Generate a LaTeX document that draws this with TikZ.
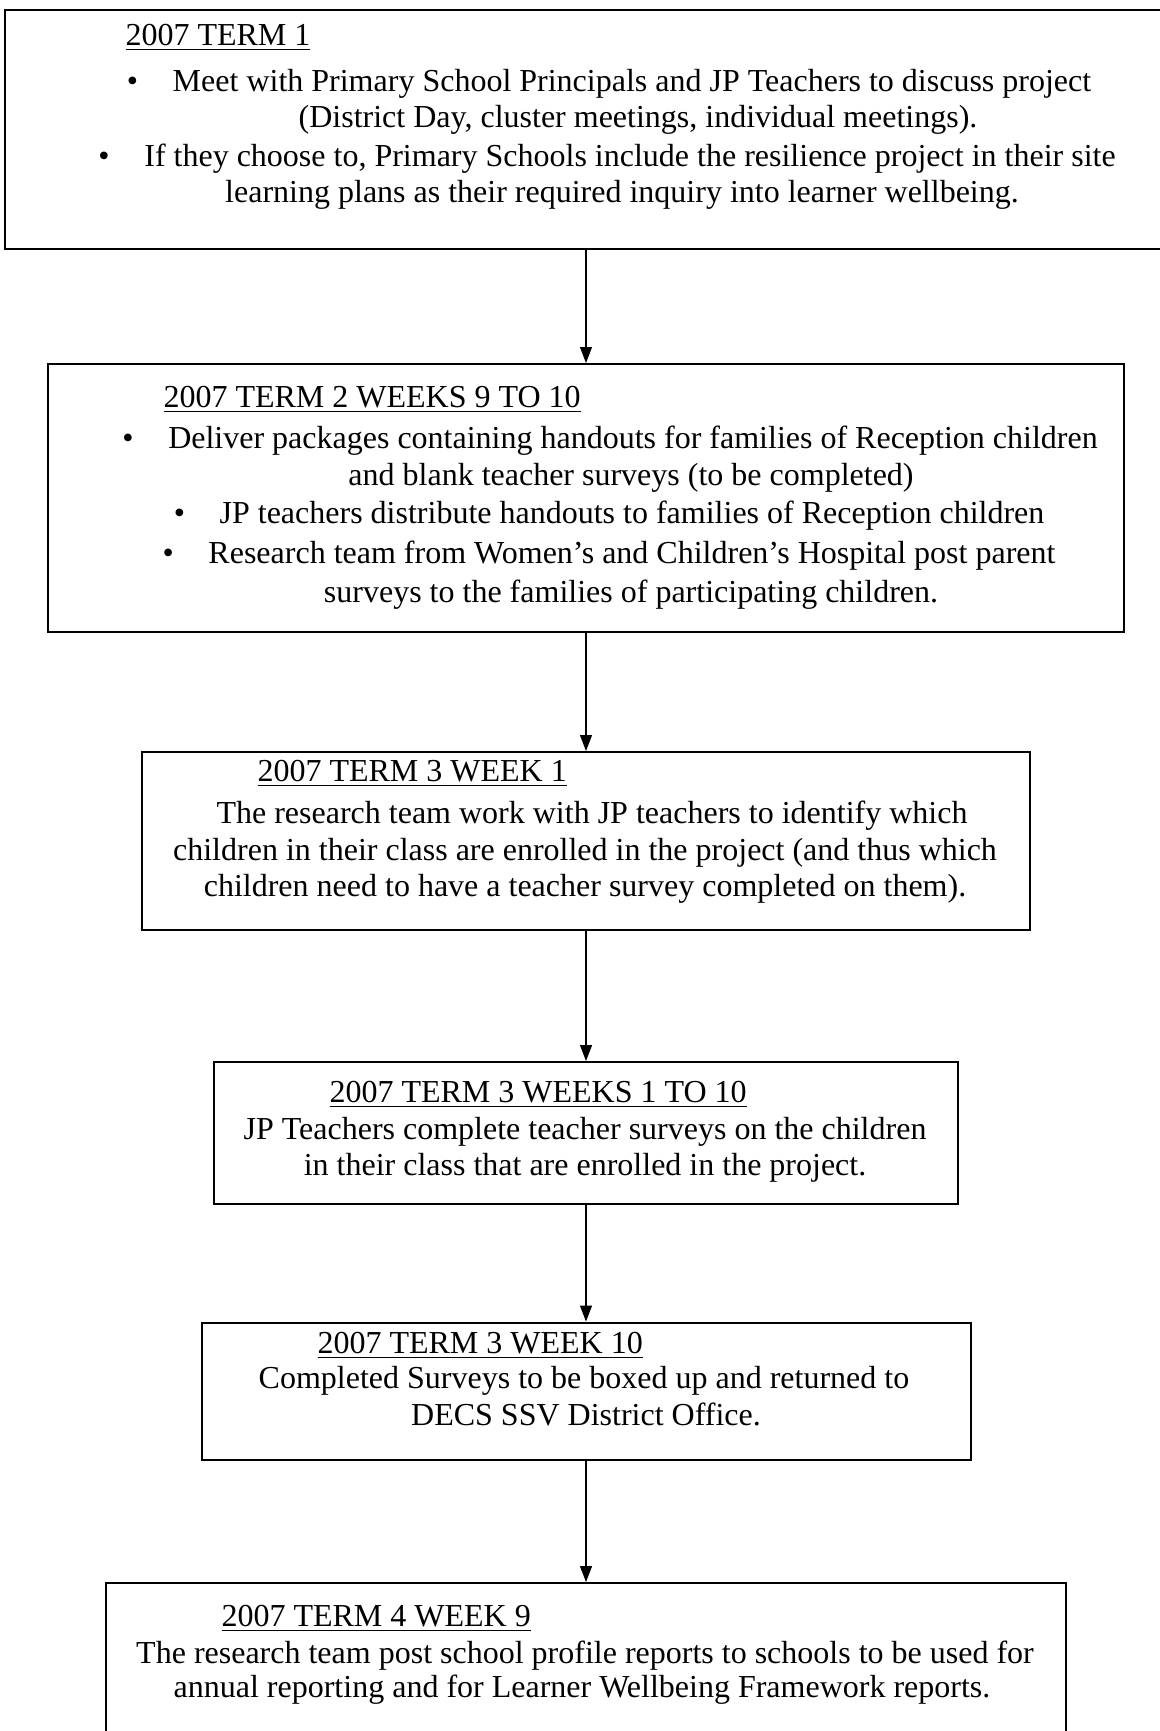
\documentclass[tikz,border=0pt]{standalone}
\usepackage{fontspec}
\setmainfont{Liberation Serif}
\usetikzlibrary{arrows.meta, positioning}

% bullet hanging to the left of a centred line
\newcommand{\itemdot}{\llap{\textbullet\hspace{13pt}}}

\tikzset{
  stage/.style 2 args={draw, line width=0.75pt, minimum width=#1, minimum height=#2, inner sep=0pt},
  flow/.style={line width=0.45pt, -{Triangle[length=6pt, width=4.5pt]}},
  head/.style={anchor=base west, inner sep=0pt, font=\fontsize{12}{14}\selectfont},
  body/.style={anchor=base, inner sep=0pt, font=\fontsize{12}{14}\selectfont}
}

\begin{document}
\begin{tikzpicture}[x=0.375pt, y=-0.375pt]
        \clip (0,0) rectangle (1160,1731);

        % Stage boxes
        \node[stage={435.75pt}{89.625pt}] (term1) at (586,129.5) {};
        \node[stage={403.5pt}{100.5pt}] (term2) at (586,498) {};
        \node[stage={333pt}{66.75pt}] (term3) at (586,841) {};
        \node[stage={279pt}{53.25pt}] (term3b) at (586,1133) {};
        \node[stage={288.375pt}{51.375pt}] (term3c) at (586,1391) {};
        \node[stage={360pt}{73.875pt}] (term4) at (586,1681.5) {};

        % Arrows between stages
        \draw[flow] (term1) -- (term2);
        \draw[flow] (term2) -- (term3);
        \draw[flow] (term3) -- (term3b);
        \draw[flow] (term3b) -- (term3c);
        \draw[flow] (term3c) -- (term4);

        % Term 1
        \node[head] (h1) at (125,45) {\underline{2007 TERM 1}};
        \node[body] (l1a) at (632,91) {\itemdot Meet with Primary School Principals and JP Teachers to discuss project};
        \node[body] (l1b) at (638,127) {(District Day, cluster meetings, individual meetings).};
        \node[body] (l1c) at (630,166) {\itemdot If they choose to, Primary Schools include the resilience project in their site};
        \node[body] (l1d) at (622,202) {learning plans as their required inquiry into learner wellbeing.};

        % Term 2
        \node[head] (h2) at (163,407) {\underline{2007 TERM 2 WEEKS 9 TO 10}};
        \node[body] (l2a) at (633,448) {\itemdot Deliver packages containing handouts for families of Reception children};
        \node[body] (l2b) at (631,485) {and blank teacher surveys (to be completed)};
        \node[body] (l2c) at (632,523) {\itemdot JP teachers distribute handouts to families of Reception children};
        \node[body] (l2d) at (632,563) {\itemdot Research team from Women’s and Children’s Hospital post parent};
        \node[body] (l2e) at (631,602) {surveys to the families of participating children.};

        % Term 3 week 1
        \node[head] (h3) at (257,781) {\underline{2007 TERM 3 WEEK 1}};
        \node[body] (l3a) at (592,823) {The research team work with JP teachers to identify which};
        \node[body] (l3b) at (585,860) {children in their class are enrolled in the project (and thus which};
        \node[body] (l3c) at (585,896) {children need to have a teacher survey completed on them).};

        % Term 3 weeks 1 to 10
        \node[head] (h4) at (329,1102) {\underline{2007 TERM 3 WEEKS 1 TO 10}};
        \node[body] (l4a) at (585,1139) {JP Teachers complete teacher surveys on the children};
        \node[body] (l4b) at (585,1175) {in their class that are enrolled in the project.};

        % Term 3 week 10
        \node[head] (h5) at (317,1353) {\underline{2007 TERM 3 WEEK 10}};
        \node[body] (l5a) at (584,1388) {Completed Surveys to be boxed up and returned to};
        \node[body] (l5b) at (586,1425) {DECS SSV District Office.};

        % Term 4
        \node[head] (h6) at (221,1626) {\underline{2007 TERM 4 WEEK 9}};
        \node[body] (l6a) at (585,1663) {The research team post school profile reports to schools to be used for};
        \node[body] (l6b) at (582,1697) {annual reporting and for Learner Wellbeing Framework reports.};
    \end{tikzpicture}
\end{document}
